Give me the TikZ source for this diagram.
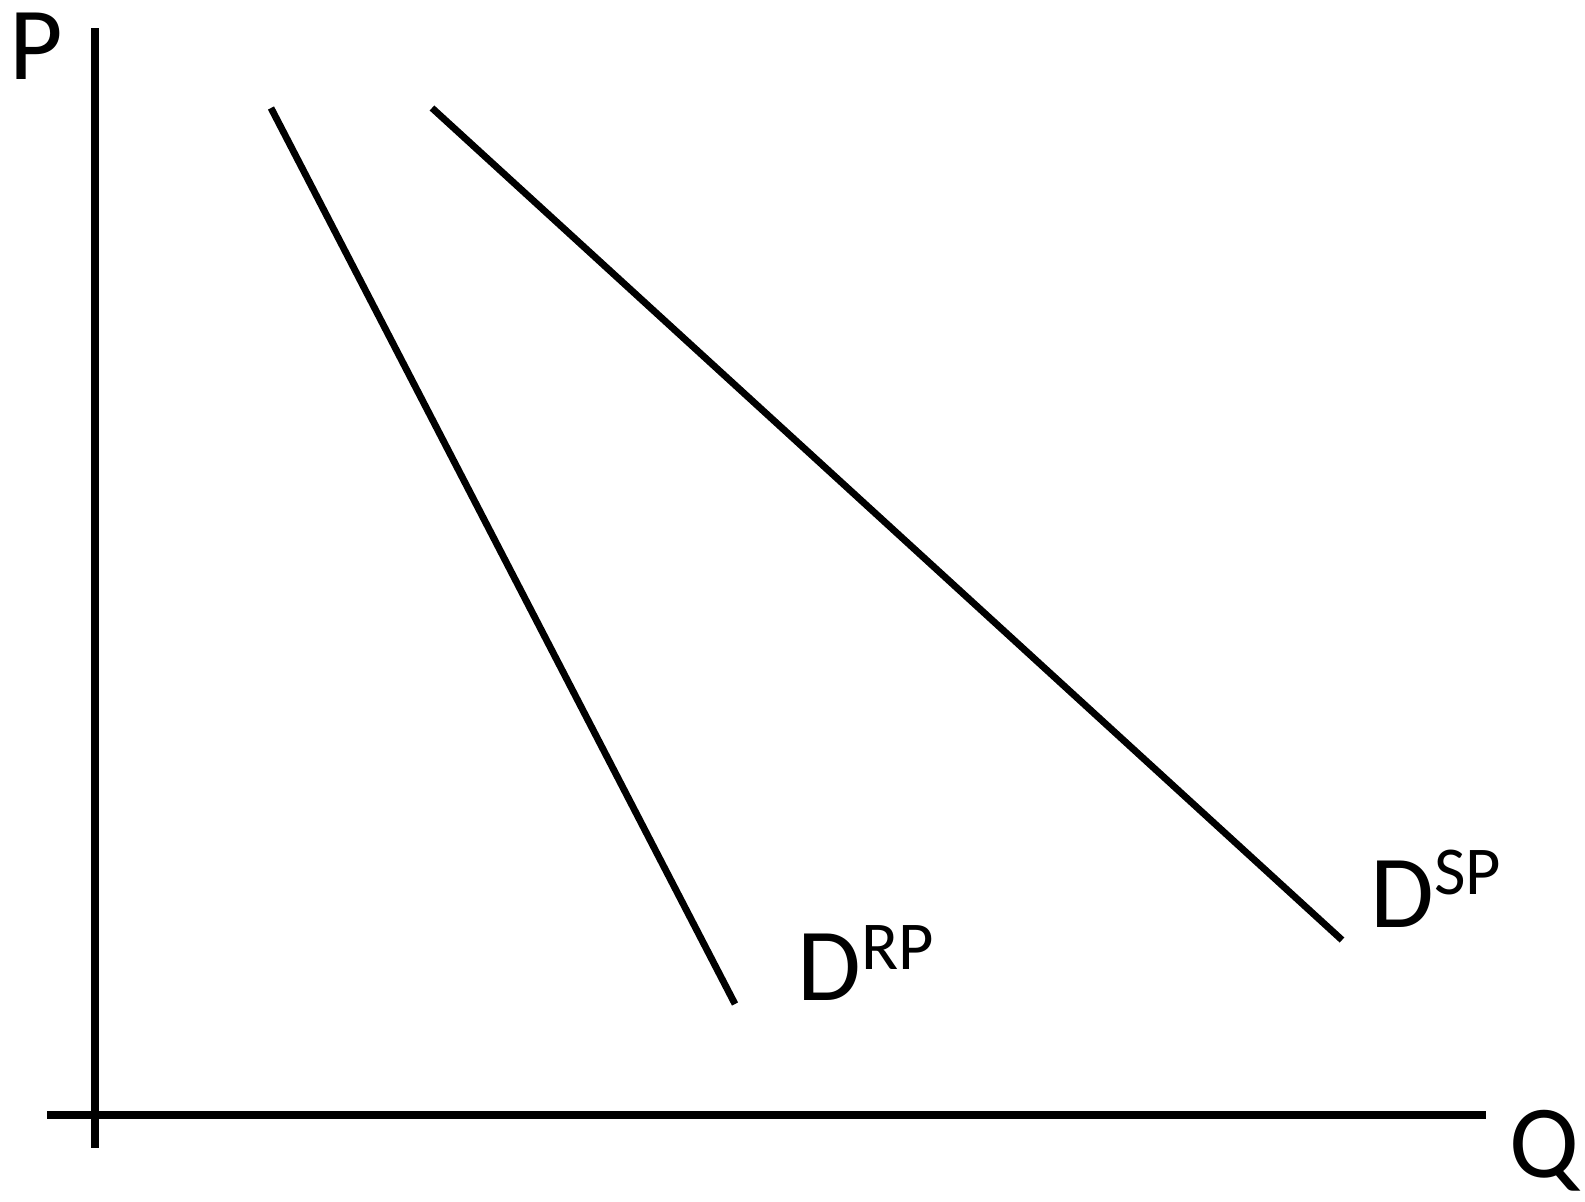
\documentclass[tikz,border=0pt]{standalone}
\usepackage{fontspec}
\setmainfont{Carlito}
\usetikzlibrary{positioning}

\begin{document}
\begin{tikzpicture}[x=0.02cm,y=-0.02cm,
		axis/.style={line width=4.5pt},
		demand/.style={line width=3.9pt},
		biglabel/.style={inner sep=0pt,anchor=base west,font=\fontsize{59}{60}\selectfont}]
		
		\useasboundingbox (0,0) rectangle (1585,1201);
		
		% axes
		\coordinate (ptop) at (95,28);
		\coordinate (pbot) at (95,1148);
		\coordinate (qleft) at (47,1115);
		\coordinate (qright) at (1486,1115);
		
		\draw[axis] (ptop)--(pbot);
		\draw[axis] (qleft)--(qright);
		
		\node[biglabel] (P) at (9,79) {P};
		\node[biglabel] (Q) at (1509,1177) {Q};
		
		% demand curves
		\coordinate (rptop) at (271,108);
		\coordinate (rpbot) at (735,1004);
		\coordinate (sptop) at (432,108);
		\coordinate (spbot) at (1342,940);
		
		\draw[demand] (rptop)--(rpbot);
		\draw[demand] (sptop)--(spbot);
		
		\node[biglabel] (DRP) at (797,1000)
		{D\raisebox{0.62cm}{\fontsize{39}{40}\selectfont RP}};
		
		\node[biglabel] (DSP) at (1370,927)
		{D\raisebox{0.66cm}{\fontsize{39}{40}\selectfont SP}};
		
	\end{tikzpicture}
\end{document}
